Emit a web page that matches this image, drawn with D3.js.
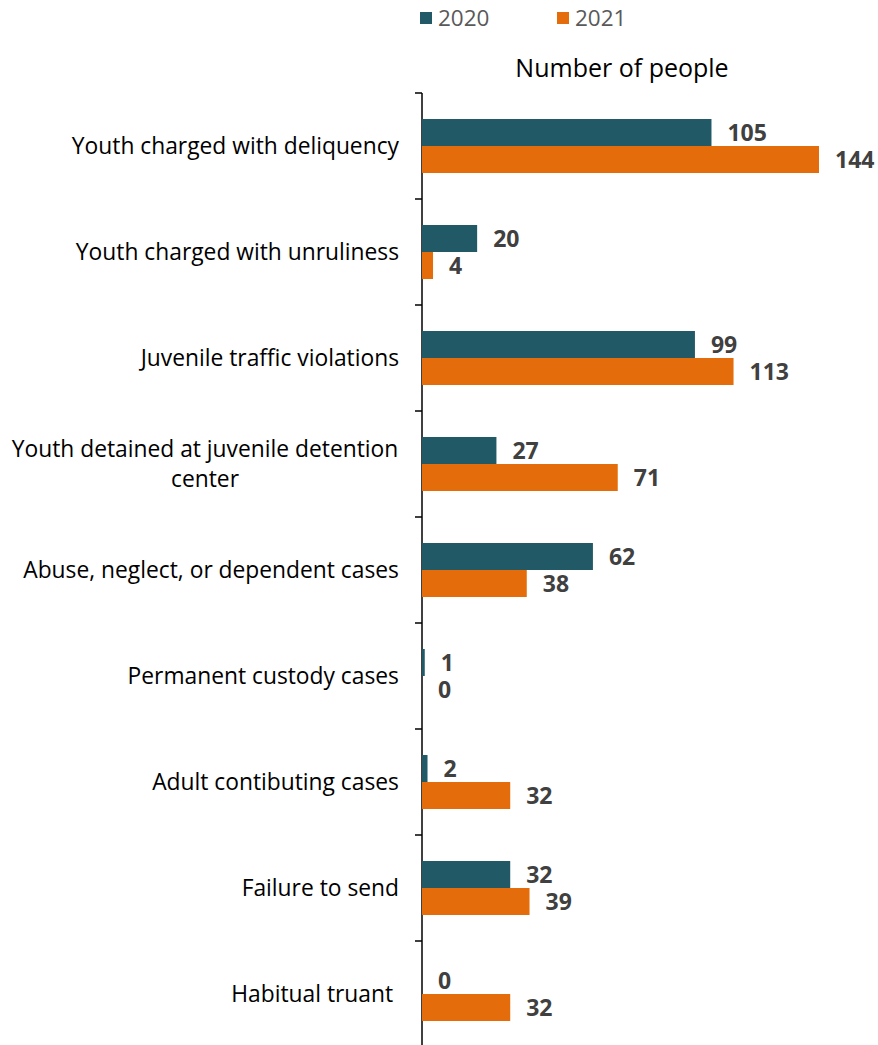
<!DOCTYPE html>
<html><head><meta charset="utf-8">
<script src="https://cdn.jsdelivr.net/npm/d3@7"></script>
<style>body{margin:0;background:#fff}svg{display:block}</style>
</head><body>
<script>
const categories = [
  ["Youth charged with deliquency"],
  ["Youth charged with unruliness"],
  ["Juvenile traffic violations"],
  ["Youth detained at juvenile detention", "center"],
  ["Abuse, neglect, or dependent cases"],
  ["Permanent custody cases"],
  ["Adult contibuting cases"],
  ["Failure to send"],
  ["Habitual truant "]
];
const series = ["2020", "2021"];
const values2020 = [105, 20, 99, 27, 62, 1, 2, 32, 0];
const values2021 = [144, 4, 113, 71, 38, 0, 32, 39, 32];
const colors = ["#225966", "#E46C0A"];
const axisTitle = "Number of people";

const W = 878, H = 1045;
const svg = d3.select("body").append("svg").attr("width", W).attr("height", H);
const font = "'Open Sans','Noto Sans',sans-serif";

const x = d3.scaleLinear().domain([0, 144]).range([422, 819]);
const y = d3.scaleBand().domain(d3.range(categories.length)).range([93, 1047]);
const inner = d3.scaleBand().domain(series).range([0, 54]);
const barOffset = (y.bandwidth() - 54) / 2;

// axis
svg.append("line").attr("x1", 422).attr("x2", 422).attr("y1", 93).attr("y2", 1047)
  .attr("stroke", "#000").attr("stroke-width", 1.5);
const ticks = d3.range(categories.length + 1).map(i => 93 + i * y.step());
svg.selectAll("line.tick").data(ticks).enter().append("line")
  .attr("x1", 415).attr("x2", 422).attr("y1", d => d).attr("y2", d => d)
  .attr("stroke", "#000").attr("stroke-width", 1.5);

// bars
const data = [];
categories.forEach((c, i) => {
  data.push({i, s: "2020", v: values2020[i], c: colors[0]});
  data.push({i, s: "2021", v: values2021[i], c: colors[1]});
});
svg.selectAll("rect.bar").data(data).enter().append("rect")
  .attr("x", x(0))
  .attr("y", d => y(d.i) + barOffset + inner(d.s))
  .attr("width", d => x(d.v) - x(0))
  .attr("height", inner.bandwidth())
  .attr("fill", d => d.c);

svg.selectAll("text.val").data(data).enter().append("text")
  .attr("x", d => x(d.v) + 16)
  .attr("y", d => y(d.i) + barOffset + inner(d.s) + inner.bandwidth() / 2)
  .attr("dy", "0.35em")
  .attr("font-family", font).attr("font-size", 23).attr("font-weight", "bold")
  .attr("fill", "#404040")
  .text(d => d.v);

// category labels
categories.forEach((lines, i) => {
  const cy = y(i) + y.bandwidth() / 2;
  const t = svg.append("text")
    .attr("font-family", font).attr("font-size", 22.8).attr("fill", "#000")
    .style("white-space", "pre");
  if (lines.length === 1) {
    t.attr("text-anchor", "end").attr("x", 399).attr("y", cy).attr("dy", "0.35em").text(lines[0]);
  } else {
    lines.forEach((l, k) => {
      t.append("tspan").attr("x", 205).attr("text-anchor", "middle")
        .attr("y", cy + (k - (lines.length - 1) / 2) * 30).attr("dy", "0.35em").text(l);
    });
  }
});

// legend
const legX = [420, 557];
series.forEach((s, k) => {
  svg.append("rect").attr("x", legX[k]).attr("y", 12).attr("width", 12).attr("height", 12).attr("fill", colors[k]);
  svg.append("text").attr("x", legX[k] + 18).attr("y", 18).attr("dy", "0.35em")
    .attr("font-family", font).attr("font-size", 22.5).attr("fill", "#595959").text(s);
});

// axis title
svg.append("text").attr("x", 622).attr("y", 68).attr("dy", "0.35em").attr("text-anchor", "middle")
  .attr("font-family", font).attr("font-size", 25).attr("fill", "#000").text(axisTitle);
</script>
</body></html>
